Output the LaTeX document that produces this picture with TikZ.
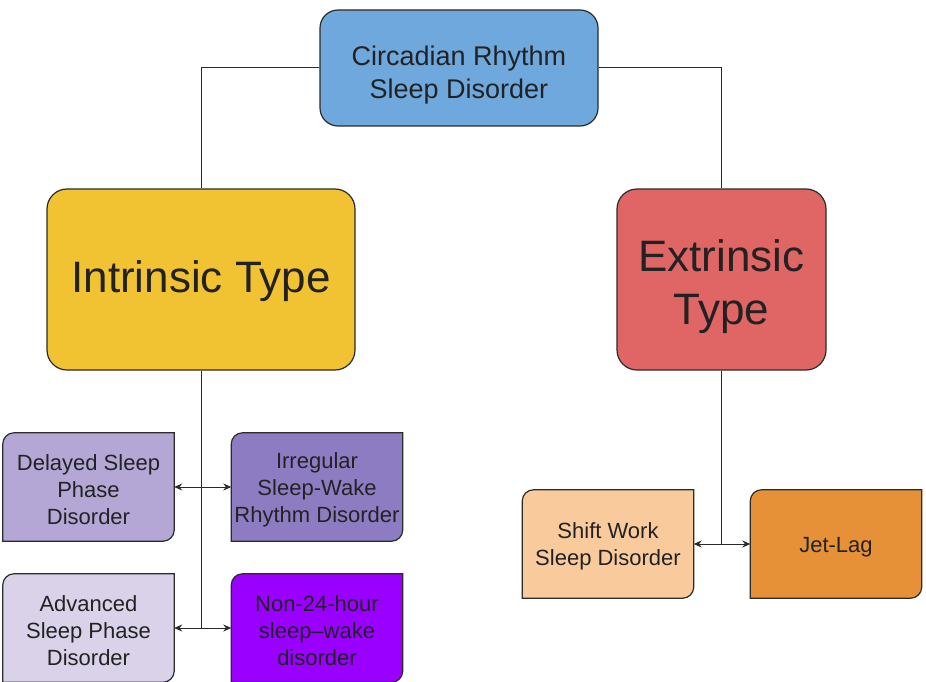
\documentclass[tikz,border=0pt]{standalone}
\usepackage{fontspec}
\setmainfont{Liberation Sans}
\usetikzlibrary{arrows.meta,backgrounds}
\definecolor{txt}{HTML}{222222}
\definecolor{edge}{HTML}{2B2B2B}
\definecolor{cTop}{HTML}{6FA8DC}
\definecolor{cIntr}{HTML}{F1C232}
\definecolor{cExtr}{HTML}{E06666}
\definecolor{cDel}{HTML}{B4A7D6}
\definecolor{cIrr}{HTML}{8E7CC3}
\definecolor{cAdv}{HTML}{D9D2E9}
\definecolor{cNon}{HTML}{9900FF}
\definecolor{cShift}{HTML}{F9CB9C}
\definecolor{cJet}{HTML}{E69138}
\newcommand\lowtext[1]{\rule{0pt}{#1}}
\begin{document}
\begin{tikzpicture}[x=1pt,y=-1pt,
  boxline/.style={draw=edge, line width=1.2pt},
  bigbox/.style={boxline, rectangle, rounded corners=20pt, inner sep=0pt, align=center, text=txt},
  bcell/.style={rectangle, minimum width=171pt, minimum height=108pt, inner sep=0pt, align=center, text=txt, font=\fontsize{22}{27}\selectfont},
  conn/.style={draw=edge, line width=1pt},
  biarrow/.style={conn, {Stealth[length=8pt,width=7pt]}-{Stealth[length=8pt,width=7pt]}}
]
\useasboundingbox (0,0) rectangle (926,682);

\node[bigbox, fill=cTop, minimum width=278pt, minimum height=116pt, rounded corners=18pt,
  font=\fontsize{27}{33}\selectfont] (top) at (459,68) {\lowtext{33pt}Circadian Rhythm\\Sleep Disorder};
\node[bigbox, fill=cIntr, minimum width=308pt, minimum height=181pt,
  font=\fontsize{44}{53}\selectfont] (intr) at (201,279.5) {\lowtext{36pt}Intrinsic Type};
\node[bigbox, fill=cExtr, minimum width=209pt, minimum height=181pt,
  font=\fontsize{44}{53}\selectfont] (extr) at (721.5,279.5) {\lowtext{46pt}Extrinsic\\Type};

\node[bcell] (del) at (88.5,487) {\lowtext{21pt}Delayed Sleep\\Phase\\Disorder};
\node[bcell] (irr) at (317,487) {\lowtext{21pt}Irregular\\Sleep-Wake\\Rhythm Disorder};
\node[bcell] (adv) at (88.5,628) {\lowtext{21pt}Advanced\\Sleep Phase\\Disorder};
\node[bcell] (non) at (317,628) {\lowtext{21pt}Non-24-hour\\sleep–wake\\disorder};
\node[bcell] (shift) at (608,544) {\lowtext{21pt}Shift Work\\Sleep Disorder};
\node[bcell] (jet) at (836,544) {\lowtext{21pt}Jet-Lag};

\begin{scope}[on background layer]
\fill[white] (0,0) rectangle (926,682);
\foreach \n/\c in {del/cDel, irr/cIrr, adv/cAdv, non/cNon, shift/cShift, jet/cJet}{
  \draw[boxline, fill=\c] ([yshift=-11pt]\n.north west) .. controls ([yshift=-5pt]\n.north west) and ([xshift=5pt]\n.north west) .. ([xshift=11pt]\n.north west)
    -- (\n.north east) -- ([yshift=11pt]\n.south east) .. controls ([yshift=5pt]\n.south east) and ([xshift=-5pt]\n.south east) .. ([xshift=-11pt]\n.south east)
    -- (\n.south west) -- cycle;
}
\end{scope}

\draw[conn] (top.west) -| (intr.north);
\draw[conn] (top.east) -| (extr.north);
\coordinate (j1) at (intr.south |- adv.east);
\draw[conn] (intr.south) -- (j1);
\coordinate (j2) at (extr.south |- shift.east);
\draw[conn] (extr.south) -- (j2);
\draw[biarrow] (del.east) -- (irr.west);
\draw[biarrow] (adv.east) -- (non.west);
\draw[biarrow] (shift.east) -- (jet.west);
\end{tikzpicture}
\end{document}
